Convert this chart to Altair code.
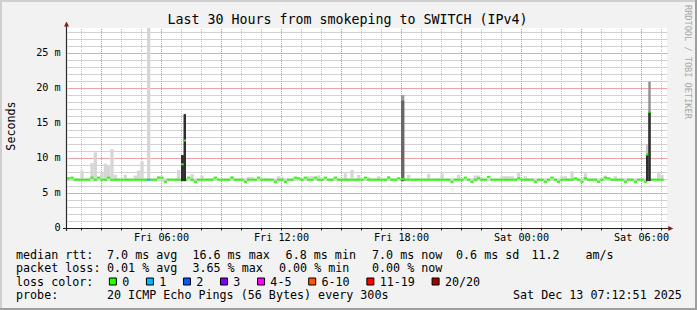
import altair as alt
import pandas as pd

# ---------------- data ----------------
START_H = 1.3          # hours since Fri 00:00 at the left edge
END_H = 31.3           # right edge (Sat 07:18)
STEP_H = 1.0 / 6.0     # 10-minute steps
Y_MAX = 200.0 / 7.0    # top of plot, in ms

# median rtt per 10-minute step (ms)
median_rtt = [
    7.1, 7.2, 6.9, 6.9, 6.9, 6.9, 6.9, 7.2, 6.9, 7.2,
    6.9, 6.9, 7.2, 6.9, 6.9, 6.9, 6.9, 6.9, 6.9, 6.9,
    6.9, 6.9, 6.9, 6.9, 6.9, 6.9, 6.9, 7.2, 7.2, 6.6,
    6.9, 6.9, 6.9, 6.9, 6.9, 6.9, 7.2, 6.9, 6.6, 6.9,
    6.9, 6.9, 6.9, 6.9, 7.2, 6.9, 6.9, 6.9, 6.9, 7.2,
    6.9, 6.9, 6.9, 6.6, 6.9, 6.9, 6.9, 7.2, 6.9, 6.9,
    6.9, 6.9, 6.6, 6.9, 6.9, 6.6, 6.9, 6.9, 7.2, 7.1,
    6.9, 7.2, 6.9, 6.9, 7.2, 6.9, 6.9, 7.2, 6.9, 6.9,
    7.2, 6.9, 6.9, 6.9, 6.9, 6.9, 6.9, 6.9, 6.9, 7.2,
    6.9, 6.9, 6.9, 6.9, 6.9, 6.9, 7.2, 6.9, 6.9, 7.1,
    6.9, 6.9, 6.9, 6.9, 6.9, 6.9, 6.9, 6.9, 6.9, 6.9,
    6.9, 6.9, 6.9, 6.9, 6.9, 6.6, 6.9, 6.9, 6.9, 7.2,
    6.9, 6.6, 6.9, 7.1, 6.9, 6.9, 7.3, 6.9, 6.9, 6.9,
    6.9, 6.9, 6.9, 6.9, 6.9, 7.1, 6.9, 6.9, 6.9, 6.9,
    6.6, 6.9, 6.9, 6.6, 6.9, 7.2, 6.9, 6.6, 6.9, 6.9,
    6.9, 6.9, 7.1, 6.9, 6.6, 7.1, 6.9, 6.9, 6.9, 6.6,
    6.9, 7.2, 7.1, 6.9, 6.9, 6.9, 6.9, 6.6, 6.9, 6.9,
    6.6, 6.9, 6.9, 6.6, 6.9, 6.9, 6.9, 6.9, 6.9,
]

# upper edge of the light smoke per step (ms)
smoke_max = [
    7.1, 7.1, 7.1, 7.1, 8.2, 7.1, 7.1, 9.3, 10.8, 7.1,
    8.0, 9.2, 8.9, 11.3, 7.6, 7.1, 7.1, 7.6, 7.1, 7.1,
    7.5, 8.2, 9.5, 7.1, 28.6, 7.1, 7.1, 7.4, 7.1, 7.1,
    7.1, 7.1, 7.1, 8.3, 7.1, 7.1, 7.1, 7.7, 7.1, 7.1,
    7.5, 7.1, 7.1, 7.1, 7.3, 7.1, 7.1, 7.1, 7.1, 7.4,
    7.1, 7.1, 7.1, 7.1, 7.3, 7.3, 7.1, 7.1, 7.1, 7.1,
    7.1, 7.1, 7.1, 7.4, 7.3, 7.1, 7.1, 7.1, 7.1, 7.1,
    7.1, 7.1, 7.4, 7.4, 7.1, 7.5, 7.1, 7.1, 7.1, 7.1,
    7.1, 7.1, 7.1, 7.8, 7.1, 8.3, 7.1, 7.6, 7.1, 7.1,
    7.3, 7.1, 7.1, 7.4, 7.1, 7.1, 7.4, 7.1, 7.1, 7.1,
    7.1, 7.1, 7.6, 7.1, 7.1, 7.1, 7.1, 7.1, 7.7, 7.1,
    7.1, 7.1, 7.8, 7.1, 7.1, 7.1, 7.1, 7.6, 7.1, 7.1,
    7.1, 7.1, 7.5, 7.5, 7.1, 7.1, 7.1, 7.1, 7.1, 7.1,
    7.4, 7.4, 7.4, 7.4, 7.1, 8.0, 7.1, 7.4, 7.1, 7.1,
    7.1, 7.1, 7.1, 7.1, 7.1, 7.1, 7.1, 7.1, 7.4, 7.4,
    7.1, 8.1, 7.1, 7.1, 7.1, 7.8, 7.1, 7.1, 7.1, 7.1,
    7.1, 7.5, 7.1, 7.1, 7.4, 7.1, 7.1, 7.1, 7.1, 7.1,
    7.1, 7.1, 7.1, 7.1, 7.1, 7.1, 7.1, 8.0, 7.6,
]
SMOKE_FLOOR = 6.7

loss_step = [24]
loss_class = ["1"]

# latency spikes (hours since Fri 00:00)
spike_start = [7.0, 7.135, 18.0, 30.25, 30.365]
spike_end = [7.135, 7.25, 18.165, 30.365, 30.485]
spike_top = [10.4, 16.3, 19.0, 12.0, 20.9]
spike_core = [10.4, 16.2, 18.2, 10.5, 16.6]
spike_median = [9.1, 12.5, 7.0, 10.5, 16.6]
spike_core_shade = ["#2e2e2e", "#2e2e2e", "#6c6767", "#2e2e2e", "#2e2e2e"]
spike_top_shade = ["#2e2e2e", "#4a4a4a", "#9a9a9a", "#c6c6c6", "#8e8e8e"]

loss_labels = ["0", "1", "2", "3", "4-5", "6-10", "11-19", "20/20"]
loss_colors = ["#26ff00", "#00b8ff", "#0059ff", "#7e00ff", "#ff00ff",
               "#ff5500", "#ff0000", "#a10000"]

y_ticks = [0, 5, 10, 15, 20, 25]
y_tick_labels = [" 0  ", " 5 m", "10 m", "15 m", "20 m", "25 m"]
x_label_hours = [6, 12, 18, 24, 30]
x_labels = ["Fri 06:00", "Fri 12:00", "Fri 18:00", "Sat 00:00", "Sat 06:00"]

title_text = "Last 30 Hours from smokeping to SWITCH (IPv4)"
y_title = "Seconds"
watermark = "RRDTOOL / TOBI OETIKER"
line1 = [(16, "median rtt:"), (107.0, "7.0 ms avg"), (192.4, "16.6 ms max"),
         (285.6, "6.8 ms min"), (372.0, "7.0 ms now"), (456.0, "0.6 ms sd"),
         (531.4, "11.2"), (585.4, "am/s")]
line2 = [(16, "packet loss:"), (107.0, "0.01 % avg"), (192.4, "3.65 % max"),
         (279.0, "0.00 % min"), (372.0, "0.00 % now")]
line3_head = "loss color:"
line4 = [(16, "probe:"), (107.0, "20 ICMP Echo Pings (56 Bytes) every 300s"),
         (513.0, "Sat Dec 13 07:12:51 2025")]

# ---------------- layout constants ----------------
OX, OY = 67, 28
W, H = 600, 200
NB = "\u00a0"
FONT = "DejaVu Sans Mono"
LEG = 11.7
AXF = 10.2
CHAR_W = 0.6021 * LEG

GRID_MINOR = "#c2c2c2"
GRID_MAJOR = "#e68c8c"
HGRID_MINOR = "#d2d2d2"
HGRID_MAJOR = "#eca4a4"

n = len(median_rtt)
cls = ["0"] * n
for s, c in zip(loss_step, loss_class):
    cls[s] = c
steps = pd.DataFrame({
    "t0": [START_H + i * STEP_H for i in range(n)],
    "t1": [START_H + (i + 1) * STEP_H for i in range(n)],
    "lo": [SMOKE_FLOOR] * n,
    "hi": smoke_max,
    "med": median_rtt,
    "loss": cls,
})
spikes = pd.DataFrame({
    "t0": spike_start, "t1": spike_end, "lo": [SMOKE_FLOOR] * len(spike_start),
    "top": spike_top, "core": spike_core, "med": spike_median,
    "cshade": spike_core_shade, "tshade": spike_top_shade,
    "loss": ["0"] * len(spike_start),
})

xs = alt.Scale(domain=[START_H, END_H], nice=False, zero=False)
ys = alt.Scale(domain=[0, Y_MAX], nice=False, zero=False)
loss_scale = alt.Scale(domain=loss_labels, range=loss_colors)

x_expr = "".join(f"datum.value == {h} ? '{l}' : " for h, l in zip(x_label_hours, x_labels)) + "''"

hours = list(range(2, 32))

x_axis = alt.Axis(
    values=hours, labelExpr=x_expr, tickSize=2, tickColor="#1f1f1f", tickWidth=1,
    domain=False, grid=False, title=None, labelFont=FONT, labelFontSize=AXF,
    labelColor="#000000", labelPadding=2, labelOverlap=False, labelFlush=False,
    labelBound=False)
# horizontal grid: every 1 ms, red-ish every 5 ms
y_axis = alt.Axis(
    values=list(range(1, 29)), labels=False, ticks=False, domain=False, title=None,
    grid=True, gridWidth=1,
    gridColor={"condition": {"test": "datum.value % 5 === 0", "value": HGRID_MAJOR},
               "value": HGRID_MINOR})

def X(f):
    return alt.X(f, scale=xs, axis=x_axis)

def Y(f):
    return alt.Y(f, scale=ys, axis=y_axis)

minor_x = pd.DataFrame({"v": [h for h in hours if h % 3 != 0]})
major_x = pd.DataFrame({"v": [h for h in hours if h % 3 == 0]})
for d in (minor_x, major_x):
    d["a"] = 0.0
    d["b"] = Y_MAX
ylab = pd.DataFrame({"v": y_ticks, "lab": [s.replace(" ", NB) for s in y_tick_labels]})

one = pd.DataFrame({"k": [0]})

def vgrid(df, color):
    return alt.Chart(df).mark_rule(color=color, strokeDash=[1, 1], strokeWidth=1, xOffset=0.5).encode(
        x=X("v:Q"), y=Y("a:Q"), y2="b:Q")

def text_at(px, py, s, size=LEG, align="left", baseline="alphabetic", angle=0, color="#000000"):
    return alt.Chart(one).mark_text(font=FONT, fontSize=size, align=align, baseline=baseline,
                                    angle=angle, color=color).encode(
        x=alt.value(px - OX), y=alt.value(py - OY), text=alt.value(s.replace(" ", NB)))

def rect_at(x0, y0, x1, y1, fill, stroke=None, sw=1):
    kw = {"fill": fill}
    if stroke:
        kw.update(stroke=stroke, strokeWidth=sw)
    return alt.Chart(one).mark_rect(**kw).encode(
        x=alt.value(x0 - OX), x2=alt.value(x1 - OX), y=alt.value(y0 - OY), y2=alt.value(y1 - OY))

def rule_at(x0, y0, x1, y1, color, sw=1):
    return alt.Chart(one).mark_rule(color=color, strokeWidth=sw).encode(
        x=alt.value(x0 - OX), x2=alt.value(x1 - OX), y=alt.value(y0 - OY), y2=alt.value(y1 - OY))

smoke = alt.Chart(steps).mark_rect(color="#d6d6d6", clip=True).encode(
    x=X("t0:Q"), x2="t1:Q", y=Y("lo:Q"), y2="hi:Q")

median = alt.Chart(steps).mark_rule(strokeWidth=2).encode(
    x=X("t0:Q"), x2="t1:Q", y=Y("med:Q"),
    color=alt.Color("loss:N", scale=loss_scale, legend=None))

spike_t = alt.Chart(spikes).mark_rect(clip=True).encode(
    x=X("t0:Q"), x2="t1:Q", y=Y("lo:Q"), y2="top:Q",
    fill=alt.Fill("tshade:N", scale=None))
spike_c = alt.Chart(spikes).mark_rect(clip=True).encode(
    x=X("t0:Q"), x2="t1:Q", y=Y("lo:Q"), y2="core:Q",
    fill=alt.Fill("cshade:N", scale=None))
spike_m = alt.Chart(spikes).mark_rule(strokeWidth=2).encode(
    x=X("t0:Q"), x2="t1:Q", y=Y("med:Q"),
    color=alt.Color("loss:N", scale=loss_scale, legend=None))

y_labels = alt.Chart(ylab).mark_text(font=FONT, fontSize=AXF, align="right", baseline="middle",
                                     color="#000000").encode(
    y=Y("v:Q"), x=alt.value(-6.3), text="lab:N")

layers = [
    vgrid(minor_x, GRID_MINOR), vgrid(major_x, GRID_MAJOR),
    smoke, median, spike_t, spike_c, spike_m, y_labels,
    # axes lines and arrows
    rule_at(63, 228.5, 669, 228.5, "#1f1f1f", 1),
    rule_at(66.5, 26, 66.5, 231, "#2a2a2a", 1.2),
    alt.Chart(one).mark_point(shape="M0,-1L1,1L-1,1Z", filled=True, size=25, color="#801f1f", opacity=1).encode(
        x=alt.value(66.5 - OX), y=alt.value(24 - OY)),
    alt.Chart(one).mark_point(shape="M1,0L-1,-1L-1,1Z", filled=True, size=25, color="#801f1f", opacity=1).encode(
        x=alt.value(670.8 - OX), y=alt.value(228.5 - OY)),
    # frame
    rect_at(0, 0, 697, 2, "#cfcfcf"), rect_at(0, 0, 2, 310, "#cfcfcf"),
    rect_at(0, 308, 697, 310, "#9e9e9e"), rect_at(695, 0, 697, 310, "#9e9e9e"),
    # titles
    text_at(347.5, 24, title_text, size=13.3, align="center"),
    text_at(10.5, 126, y_title, size=LEG, align="center", baseline="middle", angle=270),
    text_at(688, 5, watermark, size=8.6, align="left", baseline="middle", angle=90, color="#a8a8a8"),
]

for px, s in line1:
    layers.append(text_at(px, 258.5, s))
for px, s in line2:
    layers.append(text_at(px, 272.0, s))
for px, s in line4:
    layers.append(text_at(px, 299.3, s))
layers.append(text_at(16, 285.7, line3_head))

cursor = 16 + 13 * CHAR_W
for lab, col in zip(loss_labels, loss_colors):
    bx = cursor + 1.3
    layers.append(rect_at(bx + 0.5, 278.0, bx + 7.5, 285.0, col, stroke="#000000", sw=1))
    layers.append(text_at(cursor + 14.6, 285.7, lab))
    cursor += 30 + len(lab) * CHAR_W

chart = alt.layer(*layers).properties(
    width=W, height=H,
    padding={"left": OX, "top": OY, "right": 697 - OX - W, "bottom": 310 - OY - H},
    autosize="none",
    background="#f2f2f2",
).configure_view(fill="white", stroke=None)

chart.save("out.html", embed_options={"renderer": "svg", "actions": False})
